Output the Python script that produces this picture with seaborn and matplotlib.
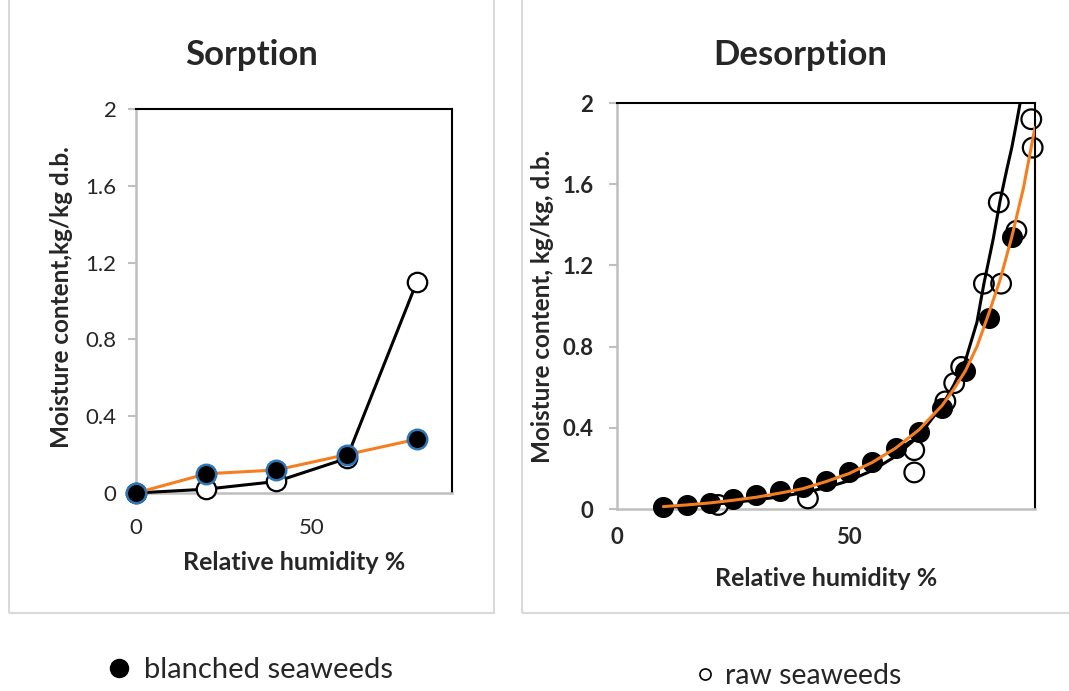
import matplotlib
matplotlib.use("Agg")
import matplotlib.pyplot as plt
from matplotlib.lines import Line2D
from matplotlib.patches import Rectangle
import seaborn as sns
import pandas as pd

# sorption data (relative humidity %, moisture content kg/kg d.b.)
sorp_rh = [0, 20, 40, 60, 80]
sorp_blanched = [0.0, 0.10, 0.12, 0.20, 0.28]
sorp_raw = [0.0, 0.02, 0.06, 0.18, 1.10]

# desorption data
des_rh_blanched = [10, 15, 20, 25, 30, 35, 40, 45, 50, 55, 60, 65, 70, 75, 80, 85]
des_blanched = [0.011, 0.02, 0.031, 0.05, 0.07, 0.09, 0.11, 0.14, 0.18, 0.23,
                0.30, 0.38, 0.50, 0.68, 0.94, 1.34]
des_rh_raw = [21.8, 41.1, 64.0, 64.0, 70.7, 72.6, 74.1, 79.0, 82.7, 82.2, 86.0, 89.2, 89.5]
des_raw = [0.02, 0.052, 0.29, 0.18, 0.53, 0.62, 0.70, 1.11, 1.11, 1.51, 1.37, 1.92, 1.78]

# fitted isotherm curves
fit_rh_raw = [10, 15, 20, 25, 30, 35, 40, 45, 50, 55, 60, 65, 70, 72.5, 75, 77.5,
              79, 81, 82.5, 84, 85, 86, 86.8]
fit_raw = [0.008, 0.014, 0.022, 0.032, 0.045, 0.06, 0.08, 0.105, 0.14, 0.19,
           0.26, 0.36, 0.51, 0.61, 0.73, 0.92, 1.11, 1.33, 1.52, 1.68, 1.78, 1.90, 2.0]
fit_rh_blanched = [10, 15, 20, 25, 30, 35, 40, 45, 50, 55, 60, 65, 70, 72.5, 75,
                   77.5, 80, 82.5, 85, 87.5, 90]
fit_blanched = [0.012, 0.02, 0.03, 0.043, 0.058, 0.078, 0.10, 0.135, 0.175, 0.23,
                0.30, 0.39, 0.51, 0.59, 0.68, 0.80, 0.96, 1.13, 1.34, 1.58, 1.88]

yticks = [0, 0.4, 0.8, 1.2, 1.6, 2.0]
ytick_labels = ["0", "0.4", "0.8", "1.2", "1.6", "2"]
xticks = [0, 50]
xtick_labels = ["0", "50"]

sns.set_style("white")
plt.rcParams["font.family"] = ["Lato", "DejaVu Sans"]

W, H = 1069, 691
fig = plt.figure(figsize=(W / 100, H / 100), dpi=100)

def px_axes(x0, x1, top, bottom):
    return fig.add_axes([x0 / W, 1 - bottom / H, (x1 - x0) / W, (bottom - top) / H])

# light grey panel frames
for (x0, x1) in [(9, 494), (522, 1080)]:
    fig.add_artist(Rectangle((x0 / W, 1 - 613 / H), (x1 - x0) / W, 620 / H,
                             transform=fig.transFigure, fill=False,
                             edgecolor="#d9d9d9", lw=1.5))

orange = "#f57f20"
grey = "#bfbfbf"

def style_axes(ax, bold, ypad, xpad):
    ax.set_xlim(0, 90)
    ax.set_ylim(0, 2)
    ax.set_yticks(yticks)
    ax.set_xticks(xticks)
    w = "bold" if bold else "normal"
    ax.set_yticklabels(ytick_labels, fontsize=16, fontweight=w)
    ax.set_xticklabels(xtick_labels, fontsize=16, fontweight=w)
    for s in ["left", "bottom"]:
        ax.spines[s].set_color(grey)
        ax.spines[s].set_linewidth(1.8)
    for s in ["top", "right"]:
        ax.spines[s].set_color("black")
        ax.spines[s].set_linewidth(1.5)
    ax.tick_params(axis="y", length=6, width=1.5, color=grey, pad=ypad, left=True)
    ax.tick_params(axis="x", length=0, pad=xpad)
    ax.set_xlabel("")
    ax.set_ylabel("")
    ax.set_facecolor("white")

# ---- Sorption ----
ax1 = px_axes(136, 452, 109, 493)
sorp = pd.DataFrame({"rh": sorp_rh, "blanched": sorp_blanched, "raw": sorp_raw})
sns.lineplot(data=sorp, x="rh", y="raw", ax=ax1, color="black", lw=2.2,
             marker="o", markersize=14, markerfacecolor="white",
             markeredgecolor="black", markeredgewidth=1.6, zorder=3)
sns.lineplot(data=sorp, x="rh", y="blanched", ax=ax1, color=orange, lw=2.2,
             marker="o", markersize=14, markerfacecolor="black",
             markeredgecolor="#2e75b6", markeredgewidth=1.8, zorder=4)
style_axes(ax1, bold=False, ypad=8, xpad=18)
for c in ax1.get_children():
    if isinstance(c, Line2D):
        c.set_clip_on(False)

# ---- Desorption ----
ax2 = px_axes(617, 1035, 103, 509)
sns.scatterplot(x=des_rh_blanched, y=des_blanched, ax=ax2, s=200, color="black",
                edgecolor="black", linewidth=1, zorder=3)
sns.scatterplot(x=des_rh_raw, y=des_raw, ax=ax2, s=200, facecolor="none",
                edgecolor="black", linewidth=1.6, zorder=4)
sns.lineplot(x=fit_rh_raw, y=fit_raw, ax=ax2, color="black", lw=2.2, zorder=5)
sns.lineplot(x=fit_rh_blanched, y=fit_blanched, ax=ax2, color=orange, lw=2.2, zorder=6)
style_axes(ax2, bold=True, ypad=11, xpad=13)
for c in ax2.collections:
    c.set_clip_on(False)

# titles and axis labels
fig.text(252 / W, 1 - 55 / H, "Sorption", fontsize=25, fontweight="bold",
         ha="center", va="center")
fig.text(800 / W, 1 - 55 / H, "Desorption", fontsize=25, fontweight="bold",
         ha="center", va="center")
fig.text(294 / W, 1 - 563 / H, "Relative humidity %", fontsize=18,
         fontweight="bold", ha="center", va="center")
fig.text(826 / W, 1 - 578 / H, "Relative humidity %", fontsize=18,
         fontweight="bold", ha="center", va="center")
fig.text(62 / W, 1 - 297 / H, "Moisture content,kg/kg d.b.", fontsize=17.5,
         fontweight="bold", ha="center", va="center", rotation=90)
fig.text(543 / W, 1 - 306 / H, "Moisture content, kg/kg, d.b.", fontsize=17.5,
         fontweight="bold", ha="center", va="center", rotation=90)

# legend entries
h_bl = Line2D([], [], ls="none", marker="o", markersize=13, color="black")
h_raw = Line2D([], [], ls="none", marker="o", markersize=8,
               markerfacecolor="white", markeredgecolor="black", markeredgewidth=1.2)
fig.legend(handles=[h_bl], labels=["blanched seaweeds"], loc="center left",
           bbox_to_anchor=(93 / W, 1 - 670 / H), frameon=False, fontsize=21,
           handlelength=0.8, handletextpad=0.45, borderpad=0)
fig.legend(handles=[h_raw], labels=["raw seaweeds"], loc="center left",
           bbox_to_anchor=(679 / W, 1 - 676 / H), frameon=False, fontsize=20.5,
           handlelength=0.8, handletextpad=0.3, borderpad=0)

fig.savefig("out.png", dpi=100, facecolor="white")
